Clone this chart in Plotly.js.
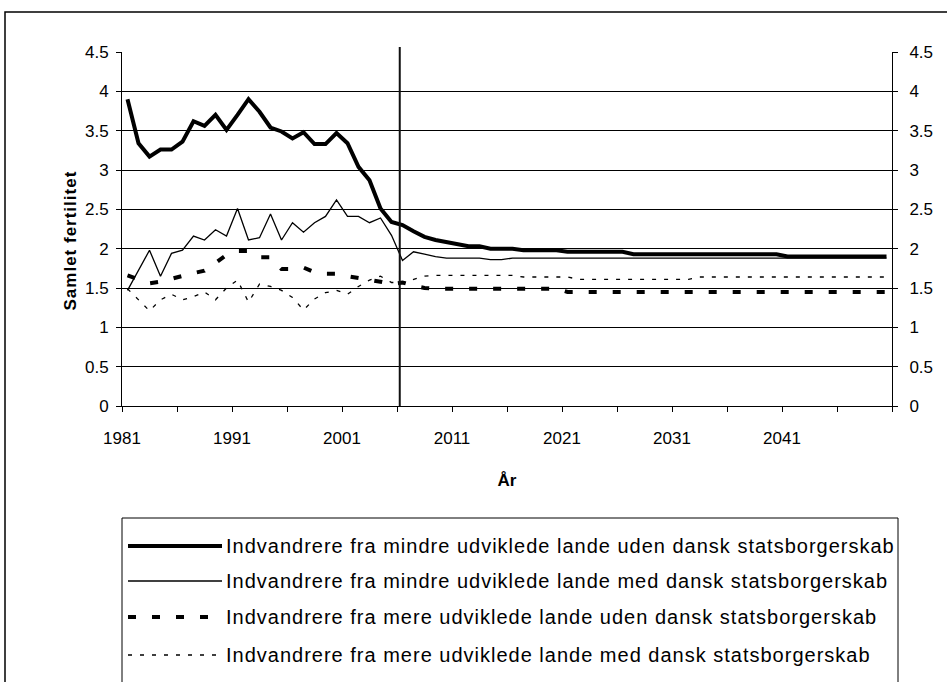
<!DOCTYPE html>
<html>
<head>
<meta charset="utf-8">
<script src="https://cdn.plot.ly/plotly-3.0.1.min.js"></script>
<style>
  html, body { margin: 0; padding: 0; background: #fff; }
  #chart { width: 947px; height: 682px; }
  .annotation-text { letter-spacing: 1px; }
</style>
</head>
<body>
<div id="chart"></div>
<script>
// Aar (kategorier)
const aar = [1981,1982,1983,1984,1985,1986,1987,1988,1989,1990,
             1991,1992,1993,1994,1995,1996,1997,1998,1999,2000,
             2001,2002,2003,2004,2005,2006,2007,2008,2009,2010,
             2011,2012,2013,2014,2015,2016,2017,2018,2019,2020,
             2021,2022,2023,2024,2025,2026,2027,2028,2029,2030,
             2031,2032,2033,2034,2035,2036,2037,2038,2039,2040,
             2041,2042,2043,2044,2045,2046,2047,2048,2049,2050];

// Samlet fertilitet, fire grupper
const mindreUden = [3.90,3.34,3.17,3.26,3.26,3.36,3.62,3.56,3.70,3.51,
                    3.70,3.90,3.74,3.54,3.49,3.40,3.48,3.33,3.33,3.47,
                    3.34,3.04,2.87,2.51,2.34,2.30,2.22,2.15,2.11,2.08,
                    2.05,2.03,2.03,2.00,2.00,2.00,1.98,1.98,1.98,1.98,
                    1.96,1.96,1.96,1.96,1.96,1.96,1.93,1.93,1.93,1.93,
                    1.93,1.93,1.93,1.93,1.93,1.93,1.93,1.93,1.93,1.93,
                    1.90,1.90,1.90,1.90,1.90,1.90,1.90,1.90,1.90,1.90];

const mindreMed = [1.47,1.72,1.98,1.65,1.94,1.98,2.16,2.11,2.24,2.16,
                   2.51,2.11,2.14,2.44,2.11,2.33,2.21,2.33,2.41,2.62,
                   2.41,2.41,2.33,2.39,2.17,1.85,1.96,1.93,1.90,1.88,
                   1.88,1.88,1.88,1.86,1.86,1.88,1.88,1.88,1.88,1.88,
                   1.88,1.88,1.88,1.88,1.88,1.88,1.88,1.88,1.88,1.88,
                   1.88,1.88,1.88,1.88,1.88,1.88,1.88,1.88,1.88,1.88,
                   1.88,1.88,1.88,1.88,1.88,1.88,1.88,1.88,1.88,1.88];

const mereUden = [1.66,1.61,1.56,1.58,1.62,1.66,1.69,1.72,1.82,1.92,
                  1.97,1.97,1.89,1.89,1.74,1.74,1.76,1.70,1.68,1.68,
                  1.65,1.63,1.60,1.58,1.55,1.57,1.53,1.50,1.49,1.49,
                  1.49,1.49,1.49,1.49,1.49,1.49,1.49,1.49,1.49,1.49,
                  1.45,1.45,1.45,1.45,1.45,1.45,1.45,1.45,1.45,1.45,
                  1.45,1.45,1.45,1.45,1.45,1.45,1.45,1.45,1.45,1.45,
                  1.45,1.45,1.45,1.45,1.45,1.45,1.45,1.45,1.45,1.45];

const mereMed = [1.49,1.35,1.21,1.35,1.42,1.35,1.39,1.45,1.35,1.50,
                 1.60,1.32,1.55,1.52,1.47,1.38,1.22,1.36,1.44,1.47,
                 1.42,1.52,1.60,1.65,1.57,1.57,1.61,1.65,1.66,1.66,
                 1.66,1.66,1.66,1.66,1.66,1.66,1.64,1.64,1.64,1.64,
                 1.64,1.61,1.61,1.61,1.61,1.61,1.61,1.61,1.61,1.61,
                 1.61,1.61,1.64,1.64,1.64,1.64,1.64,1.64,1.64,1.64,
                 1.64,1.64,1.64,1.64,1.64,1.64,1.64,1.64,1.64,1.64];

const serieNavne = [
    "Indvandrere fra mindre udviklede lande uden dansk statsborgerskab",
    "Indvandrere fra mindre udviklede lande med dansk statsborgerskab",
    "Indvandrere fra mere udviklede lande uden dansk statsborgerskab",
    "Indvandrere fra mere udviklede lande med dansk statsborgerskab"
];

// Tick-marker mellem kategorier, etiket hver 10. aar
const xTickVals = [1980.5,1985.5,1990.5,1995.5,2000.5,2005.5,2010.5,2015.5,
                   2020.5,2025.5,2030.5,2035.5,2040.5,2045.5,2050.5];
const xTickText = ["1981","","1991","","2001","","2011","","2021","","2031","","2041","",""];
const yTickVals = [0,0.5,1,1.5,2,2.5,3,3.5,4,4.5];
const yTickText = ["0","0.5","1","1.5","2","2.5","3","3.5","4","4.5"];

const FONT = "Liberation Sans, Arial, sans-serif";

// plot-omraade i pixels
const L = 122, T = 52, W = 770, H = 354;
function px(x) { return (x - L) / W; }
function py(y) { return (T + H - y) / H; }

const stil = [
    {color: "#000", width: 4, dash: "solid"},
    {color: "#000", width: 1.3, dash: "solid"},
    {color: "#000", width: 4, dash: "8px,16px"},
    {color: "#000", width: 1.3, dash: "4px,8px"}
];

let data = [
    {x: aar, y: mereMed, mode: "lines", line: stil[3], name: serieNavne[3]},
    {x: aar, y: mereUden, mode: "lines", line: stil[2], name: serieNavne[2]},
    {x: aar, y: mindreMed, mode: "lines", line: stil[1], name: serieNavne[1]},
    {x: aar, y: mindreUden, mode: "lines", line: stil[0], name: serieNavne[0], yaxis: "y2"}
];

// ramme, projektionslinje og forklaring
let shapes = [
    {type: "rect", xref: "paper", yref: "paper", x0: px(5), x1: px(960), y0: py(12), y1: py(700),
     line: {color: "#000", width: 1.5}, fillcolor: "rgba(0,0,0,0)", layer: "below"},
    {type: "line", xref: "x", yref: "paper", x0: 2005.75, x1: 2005.75, y0: 0, y1: py(47),
     line: {color: "#111", width: 2}},
    {type: "rect", xref: "paper", yref: "paper", x0: px(122), x1: px(898), y0: py(518), y1: py(700),
     line: {color: "#000", width: 1}, fillcolor: "rgba(0,0,0,0)"}
];
let annotations = [
    {xref: "paper", yref: "paper", x: px(58), y: py(241), text: "<b>Samlet fertilitet</b>",
     textangle: -90, showarrow: false, font: {family: FONT, size: 17, color: "#000"}}
];
const raekker = [546, 581, 617, 655];
for (let i = 0; i < 4; i++) {
    shapes.push({type: "line", xref: "paper", yref: "paper",
                 x0: px(128), x1: px(222), y0: py(raekker[i]), y1: py(raekker[i]),
                 line: stil[i]});
    annotations.push({xref: "paper", yref: "paper", x: px(224), y: py(raekker[i]),
                      xanchor: "left", yanchor: "middle", text: serieNavne[i], showarrow: false,
                      font: {family: FONT, size: 20, color: "#000"}});
}

let layout = {
    width: 947, height: 682,
    margin: {l: L, r: 947 - L - W, t: T, b: 682 - T - H},
    paper_bgcolor: "#fff", plot_bgcolor: "#fff",
    showlegend: false,
    font: {family: FONT, size: 16, color: "#000"},
    xaxis: {
        range: [1980.5, 2050.5], tickmode: "array", tickvals: xTickVals, ticktext: xTickText,
        ticklabelshift: 5.5, ticklabelstandoff: 12, ticks: "outside", ticklen: 5, tickcolor: "#000",
        showgrid: false, zeroline: false, showline: true, linecolor: "#000", linewidth: 1,
        automargin: false, tickfont: {size: 17},
        title: {text: "<b>År</b>", font: {size: 17}, standoff: 26}
    },
    yaxis: {
        range: [0, 4.5], tickmode: "array", tickvals: yTickVals, ticktext: yTickText,
        ticks: "outside", ticklen: 5, tickcolor: "#000", ticklabelstandoff: 4,
        tickfont: {size: 17},
        showgrid: true, gridcolor: "#000", gridwidth: 1, zeroline: false,
        showline: true, linecolor: "#000", linewidth: 1, automargin: false
    },
    yaxis2: {
        range: [0, 4.5], tickmode: "array", tickvals: yTickVals, ticktext: yTickText,
        overlaying: "y", side: "right", anchor: "x",
        ticks: "outside", ticklen: 5, tickcolor: "#000", ticklabelstandoff: 8,
        tickfont: {size: 17},
        showgrid: false, zeroline: false, showline: true, linecolor: "#000", linewidth: 1,
        automargin: false
    },
    shapes: shapes,
    annotations: annotations
};

Plotly.newPlot("chart", data, layout, {staticPlot: true});
</script>
</body>
</html>
